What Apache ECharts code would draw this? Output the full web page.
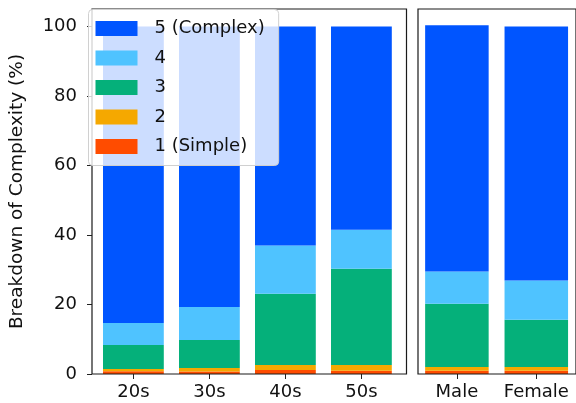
<!DOCTYPE html>
<html>
<head>
<meta charset="utf-8">
<script src="https://cdn.jsdelivr.net/npm/echarts@6/dist/echarts.min.js"></script>
<style>html,body{margin:0;padding:0;background:#fff;}#c{width:576px;height:403px;}</style>
</head>
<body>
<div id="c"></div>
<script>
const ageCategories = ['20s', '30s', '40s', '50s'];
const genderCategories = ['Male', 'Female'];
const levelNames = ['1 (Simple)', '2', '3', '4', '5 (Complex)'];
const levelColors = ['#FF4C00', '#F5A800', '#05B07A', '#4FC3FF', '#0055FF'];
// values per level (index 0 = level 1 ... index 4 = level 5)
const ageValues = [
  [0.8, 0.75, 1.15, 0.95],
  [0.65, 1.0, 1.45, 1.65],
  [6.9, 8.05, 20.5, 27.7],
  [6.35, 9.5, 13.9, 11.2],
  [85.3, 80.7, 63.0, 58.5]
];
const genderValues = [
  [0.95, 0.95],
  [1.05, 1.05],
  [18.2, 13.6],
  [9.3, 11.3],
  [70.8, 73.1]
];
const yTicks = [0, 20, 40, 60, 80, 100];

const FONT = '"DejaVu Sans", sans-serif';
const chart = echarts.init(document.getElementById('c'));

const series = [];
levelNames.forEach((name, i) => {
  series.push({
    name: name, type: 'bar', stack: 'age', xAxisIndex: 1, yAxisIndex: 1,
    data: ageValues[i], barCategoryGap: '20%', itemStyle: { color: levelColors[i] },
    emphasis: { disabled: true }
  });
});
levelNames.forEach((name, i) => {
  series.push({
    name: name, type: 'bar', stack: 'gender', xAxisIndex: 3, yAxisIndex: 3,
    data: genderValues[i], barCategoryGap: '20%', itemStyle: { color: levelColors[i] },
    emphasis: { disabled: true }
  });
});

const labelStyle = { color: '#111', fontSize: 18, fontFamily: FONT };
const tickStyle = { show: true, alignWithLabel: true, length: 5, lineStyle: { color: '#222', width: 1 } };

chart.setOption({
  animation: false,
  textStyle: { fontFamily: FONT },
  grid: [
    { left: 88.5, top: 9, width: 318, height: 365, show: true, borderColor: '#1a1a1a', borderWidth: 1.2, backgroundColor: 'transparent', z: 3 },
    { left: 95.4, top: 9, width: 304, height: 365 },
    { left: 418, top: 9, width: 170, height: 365, show: true, borderColor: '#1a1a1a', borderWidth: 1.2, backgroundColor: 'transparent', z: 3 },
    { left: 417.2, top: 9, width: 161.6, height: 365 }
  ],
  xAxis: [
    { gridIndex: 0, type: 'value', show: false, min: 0, max: 1 },
    { gridIndex: 1, type: 'category', data: ageCategories,
      axisLine: { show: false }, axisTick: tickStyle,
      axisLabel: Object.assign({ margin: 9, interval: 0 }, labelStyle) },
    { gridIndex: 2, type: 'value', show: false, min: 0, max: 1 },
    { gridIndex: 3, type: 'category', data: genderCategories,
      axisLine: { show: false }, axisTick: tickStyle,
      axisLabel: Object.assign({ margin: 9, interval: 0, hideOverlap: false }, labelStyle) }
  ],
  yAxis: [
    { gridIndex: 0, type: 'value', min: 0, max: 105,
      axisLine: { show: false },
      axisTick: { show: true, length: 5, customValues: yTicks, lineStyle: { color: '#222' } },
      axisLabel: Object.assign({ margin: 15, customValues: yTicks }, labelStyle),
      splitLine: { show: false },
      name: 'Breakdown of Complexity (%)', nameLocation: 'middle', nameGap: 65,
      nameTextStyle: { color: '#111', fontSize: 18.5, fontFamily: FONT } },
    { gridIndex: 1, type: 'value', min: 0, max: 105, show: false },
    { gridIndex: 2, type: 'value', min: 0, max: 105, show: false },
    { gridIndex: 3, type: 'value', min: 0, max: 105, show: false }
  ],
  legend: {
    data: levelNames.slice().reverse(),
    orient: 'vertical', left: 88.5, top: 9.5,
    padding: [10, 14, 10, 7],
    itemWidth: 42, itemHeight: 15, itemGap: 11.5,
    backgroundColor: 'rgba(255,255,255,0.8)', borderColor: '#d0d0d0', borderWidth: 1, borderRadius: 4,
    icon: 'rect',
    textStyle: { color: '#111', fontSize: 18, fontFamily: FONT, padding: [0, 0, 0, 12] },
    z: 10
  },
  series: series
});
</script>
</body>
</html>
